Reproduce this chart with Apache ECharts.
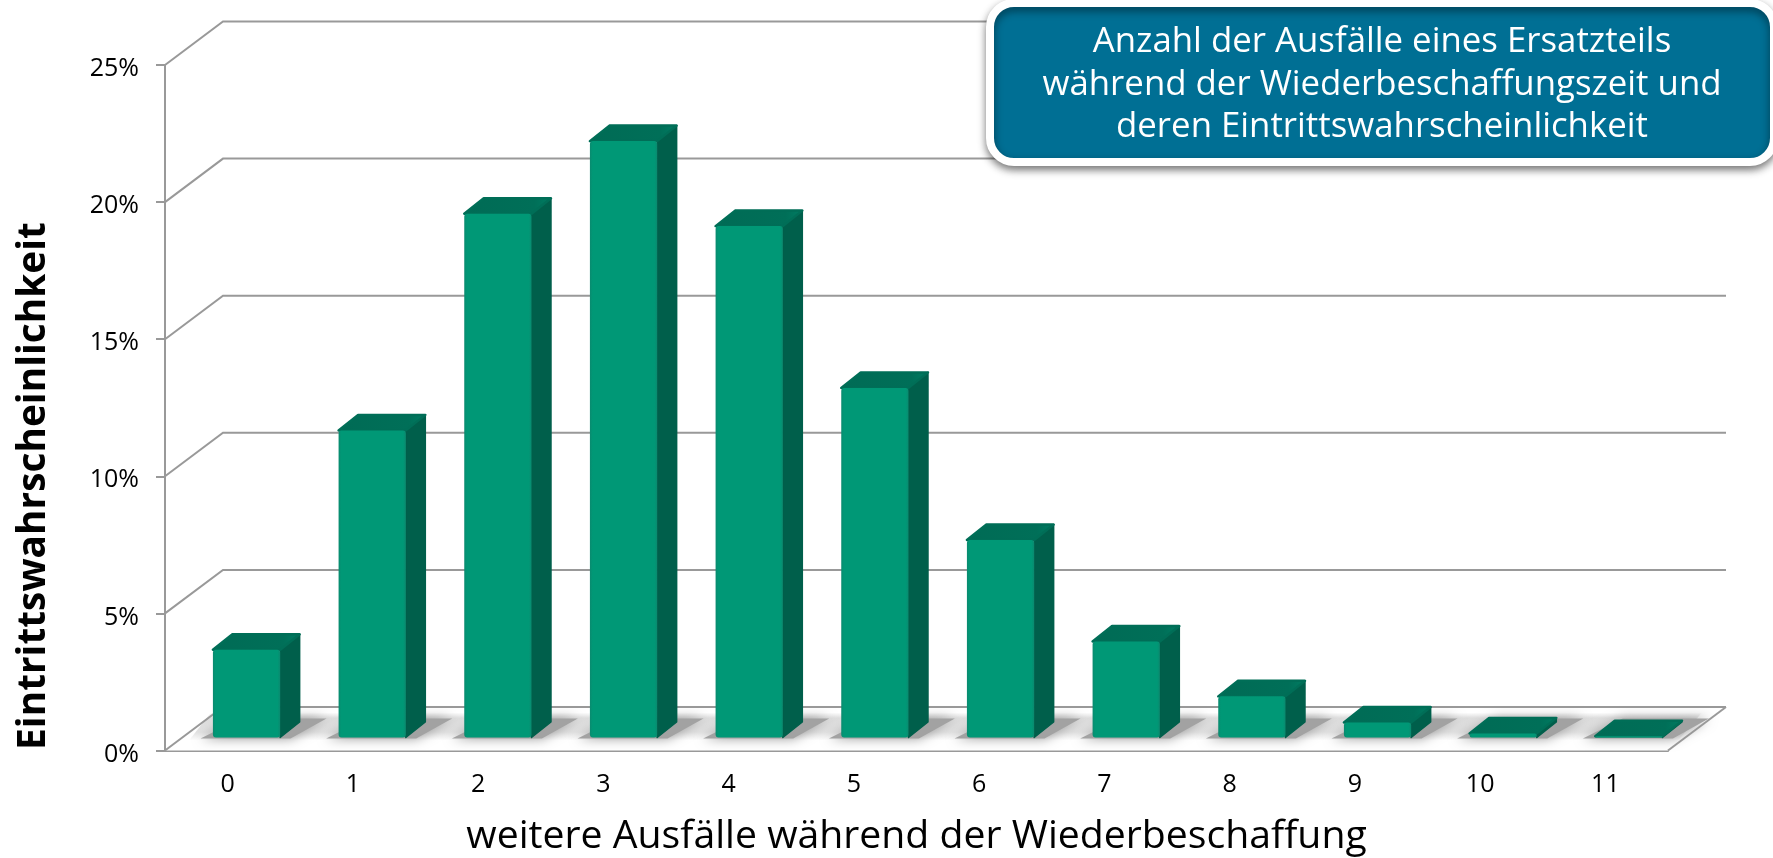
<!DOCTYPE html>
<html>
<head>
<meta charset="utf-8">
<title>Eintrittswahrscheinlichkeit</title>
<script src="https://cdn.jsdelivr.net/npm/echarts@6/dist/echarts.min.js"></script>
<style>
html,body{margin:0;padding:0;background:#fff;}
#chartDiv{width:1773px;height:858px;}
</style>
</head>
<body>
<div id="chartDiv"></div>
<script>
var categories = ['0','1','2','3','4','5','6','7','8','9','10','11'];
var probability = [3.2,11.2,19.1,21.75,18.65,12.75,7.2,3.5,1.5,0.55,0.15,0.05];
var yTicks = [0,5,10,15,20,25];
var xAxisTitle = 'weitere Ausfälle während der Wiederbeschaffung';
var yAxisTitle = 'Eintrittswahrscheinlichkeit';
var boxTitle = 'Anzahl der Ausfälle eines Ersatzteils\nwährend der Wiederbeschaffungszeit und\nderen Eintrittswahrscheinlichkeit';

var fontName = '"Open Sans"';
var lineColor = '#999999';
// 3d look: offset of the back wall, and depth of a bar
var wallDx = 58, wallDy = 43.5;
var barDx = 19.5, barDy = 15.5;

function renderFloor(params, api){
	var band = api.size([1, 0])[0];
	var a = api.coord([0, 0]);
	var x = a[0] - band / 2;
	var w = band * categories.length;
	var y = a[1];
	return {
		type: 'group',
		children: [{
			type: 'polygon',
			shape: {points: [[x, y], [x + wallDx, y - wallDy], [x + w + wallDx, y - wallDy], [x + w, y]]},
			style: {fill: '#fff'}
		}, {
			// light band under the shadows
			type: 'polygon',
			shape: {points: [[x + 24, y - 10], [x + 46, y - 38], [x + w + 34, y - 38], [x + w + 10, y - 10]]},
			style: {
				fill: new echarts.graphic.LinearGradient(0, 0, 0, 1, [
					{offset: 0, color: '#ffffff'},
					{offset: 0.2, color: '#dddddd'},
					{offset: 0.7, color: '#e2e2e2'},
					{offset: 1, color: '#ffffff'}
				])
			}
		}, {
			type: 'line',
			shape: {x1: x + w, y1: y, x2: x + w + wallDx, y2: y - wallDy},
			style: {stroke: lineColor, lineWidth: 2}
		}]
	};
}

function renderWall(params, api){
	var band = api.size([1, 0])[0];
	var a = api.coord([0, api.value(1)]);
	var x = a[0] - band / 2;
	var w = band * categories.length;
	var y = a[1];
	return {
		type: 'polyline',
		shape: {points: [[x, y], [x + wallDx, y - wallDy], [x + w + wallDx, y - wallDy]]},
		style: {stroke: lineColor, lineWidth: 2, fill: null}
	};
}

function renderShadow(params, api){
	var base = api.coord([api.value(0), 0]);
	var x = base[0], y = base[1];
	return {
		type: 'polygon',
		shape: {points: [[x - 46, y + 1], [x + 44, y + 1], [x + 80, y - 19], [x - 6, y - 19]]},
		style: {fill: '#a2a2a2', shadowBlur: 12, shadowColor: '#999999'}
	};
}

function renderBar(params, api){
	var base = api.coord([api.value(0), 0]);
	var top = api.coord([api.value(0), api.value(1)]);
	var bw = api.size([1, 0])[0] * 0.535;
	var l = base[0] - bw / 2, r = base[0] + bw / 2;
	var y0 = base[1], y1 = top[1];
	return {
		type: 'group',
		children: [{
			// right side
			type: 'polygon',
			shape: {points: [[r, y0], [r, y1], [r + barDx, y1 - barDy], [r + barDx, y0 - barDy]]},
			style: {fill: '#005f4b', stroke: '#005f4b', lineWidth: 1.5, lineJoin: 'round'}
		}, {
			// top side
			type: 'polygon',
			shape: {points: [[l, y1], [r, y1], [r + barDx, y1 - barDy], [l + barDx, y1 - barDy]]},
			style: {
				fill: new echarts.graphic.LinearGradient(0, 0, 1, 0, [
					{offset: 0, color: '#006b55'},
					{offset: 0.8, color: '#006f58'},
					{offset: 1, color: '#007d63'}
				]),
				stroke: '#006e57', lineWidth: 2.5, lineJoin: 'round'
			}
		}, {
			// front side
			type: 'rect',
			shape: {x: l, y: y1, width: bw, height: y0 - y1, r: Math.min(3, (y0 - y1) / 2)},
			style: {
				fill: new echarts.graphic.LinearGradient(0, 0, 1, 0, [
					{offset: 0, color: '#0a8a6f'},
					{offset: 0.04, color: '#009876'},
					{offset: 0.96, color: '#009876'},
					{offset: 1, color: '#0a8a6f'}
				])
			}
		}]
	};
}

var barPoints = probability.map(function(v, i){ return [i, v]; });
var shadowPoints = categories.map(function(c, i){ return [i, 0]; });
var wallPoints = yTicks.map(function(t){ return [0, t]; });

var chartOption = {
	backgroundColor: '#fff',
	animation: false,
	textStyle: {fontFamily: fontName},
	grid: [
		{left: 165, top: 65, width: 1503, height: 685.5, outerBoundsMode: 'none'},
		// plane of the bars, sits a bit behind the axes
		{left: 183.7, top: 52, width: 1508, height: 685.5, outerBoundsMode: 'none'}
	],
	xAxis: [{
		type: 'category',
		gridIndex: 0,
		data: categories,
		name: xAxisTitle,
		nameLocation: 'middle',
		nameGap: 67,
		nameTextStyle: {fontSize: 39.2, color: '#000', fontFamily: fontName},
		axisLine: {lineStyle: {color: lineColor, width: 2}},
		axisTick: {length: 9, lineStyle: {color: lineColor, width: 2}},
		axisLabel: {interval: 0, fontSize: 25, color: '#000', margin: 22}
	}, {
		type: 'category',
		gridIndex: 1,
		data: categories,
		show: false
	}],
	yAxis: [{
		type: 'value',
		gridIndex: 0,
		min: 0,
		max: 25,
		interval: 5,
		splitLine: {show: false},
		axisLine: {show: true, lineStyle: {color: lineColor, width: 2}},
		axisTick: {show: true, length: 9, lineStyle: {color: lineColor, width: 2}},
		axisLabel: {
			formatter: '{t|{value}%}',
			margin: 26,
			rich: {t: {fontSize: 25, color: '#000', fontFamily: fontName, padding: [8, 0, 0, 0]}}
		}
	}, {
		type: 'value',
		gridIndex: 1,
		min: 0,
		max: 25,
		show: false
	}],
	series: [{
		name: 'Boden',
		type: 'custom',
		xAxisIndex: 0,
		yAxisIndex: 0,
		z: 1,
		silent: true,
		renderItem: renderFloor,
		data: [[0, 0]]
	}, {
		name: 'Schatten',
		type: 'custom',
		xAxisIndex: 1,
		yAxisIndex: 1,
		z: 2,
		silent: true,
		renderItem: renderShadow,
		data: shadowPoints
	}, {
		name: 'Wand',
		type: 'custom',
		xAxisIndex: 0,
		yAxisIndex: 0,
		z: 3,
		silent: true,
		renderItem: renderWall,
		data: wallPoints
	}, {
		name: 'Eintrittswahrscheinlichkeit',
		type: 'custom',
		xAxisIndex: 1,
		yAxisIndex: 1,
		z: 4,
		renderItem: renderBar,
		encode: {x: 0, y: 1},
		data: barPoints
	}],
	graphic: [{
		type: 'text',
		x: 34,
		y: 486,
		rotation: Math.PI / 2,
		z: 20,
		style: {
			text: yAxisTitle,
			font: 'bold 38.8px ' + fontName,
			fill: '#000',
			align: 'center',
			verticalAlign: 'middle'
		}
	}, {
		type: 'rect',
		z: 30,
		shape: {x: 990, y: 3, width: 784, height: 159, r: 24},
		style: {
			fill: '#006f94',
			stroke: '#fff',
			lineWidth: 8,
			shadowBlur: 8,
			shadowOffsetY: 4,
			shadowColor: 'rgba(0,0,0,0.45)'
		}
	}, {
		type: 'text',
		z: 31,
		x: 1382,
		y: 85,
		style: {
			text: boxTitle,
			font: '34.8px ' + fontName,
			lineHeight: 42.5,
			fill: '#fff',
			align: 'center',
			verticalAlign: 'middle'
		}
	}]
};

var countChart = echarts.init(document.getElementById('chartDiv'));
countChart.setOption(chartOption);
</script>
</body>
</html>
